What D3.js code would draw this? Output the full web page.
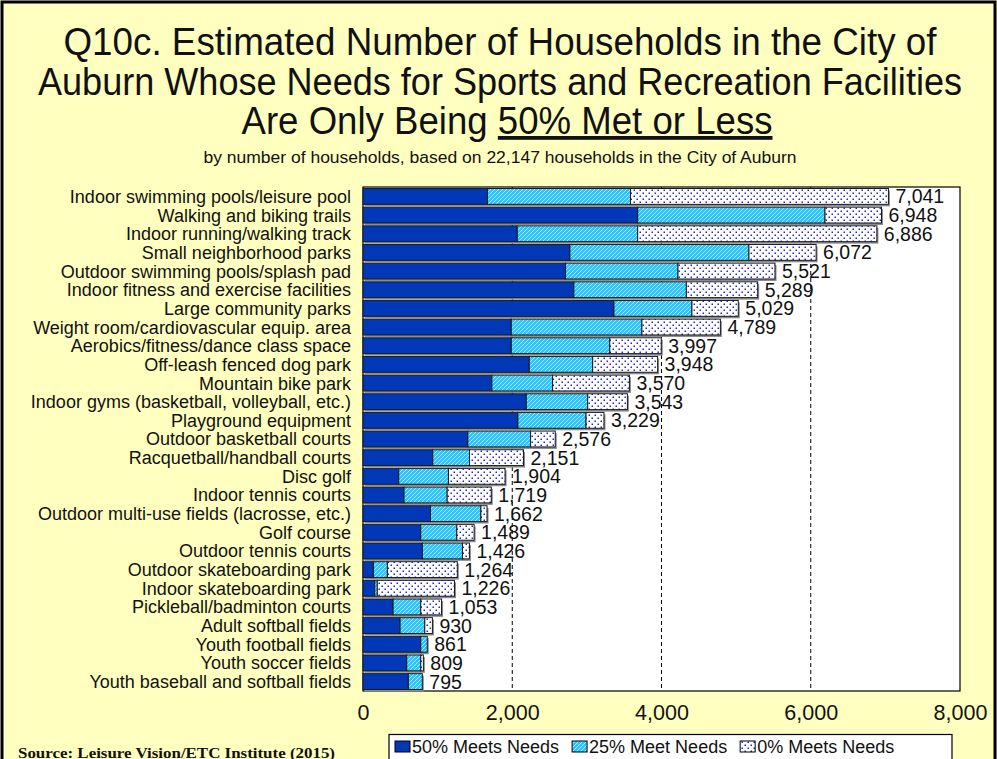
<!DOCTYPE html>
<html>
<head>
<meta charset="utf-8">
<script src="https://cdn.jsdelivr.net/npm/d3@7"></script>
<style>
  html, body { margin: 0; padding: 0; background: #FFFFBF; }
  svg { display: block; }
  text { font-family: Arial, "Liberation Sans", sans-serif; fill: #111; }
</style>
</head>
<body>
<svg id="chart" width="997" height="759"></svg>
<script>
const categories = [
  "Indoor swimming pools/leisure pool",
  "Walking and biking trails",
  "Indoor running/walking track",
  "Small neighborhood parks",
  "Outdoor swimming pools/splash pad",
  "Indoor fitness and exercise facilities",
  "Large community parks",
  "Weight room/cardiovascular equip. area",
  "Aerobics/fitness/dance class space",
  "Off-leash fenced dog park",
  "Mountain bike park",
  "Indoor gyms (basketball, volleyball, etc.)",
  "Playground equipment",
  "Outdoor basketball courts",
  "Racquetball/handball courts",
  "Disc golf",
  "Indoor tennis courts",
  "Outdoor multi-use fields (lacrosse, etc.)",
  "Golf course",
  "Outdoor tennis courts",
  "Outdoor skateboarding park",
  "Indoor skateboarding park",
  "Pickleball/badminton courts",
  "Adult softball fields",
  "Youth football fields",
  "Youth soccer fields",
  "Youth baseball and softball fields"
];
const meets50 = [1668,3681,2067,2773,2714,2826,3363,1987,1987,2228,1727,2188,2076,1405,935,479,550,904,774,796,139,157,403,497,774,586,608];
const meets25 = [1917,2510,1614,2399,1507,1507,1045,1751,1320,850,814,823,913,841,492,666,578,676,483,537,188,35,371,331,87,188,187];
const meets0  = [3456,757,3205,900,1300,956,621,1051,690,870,1029,532,240,330,724,759,591,82,232,93,937,1034,279,102,0,35,0];
const seriesNames = ["50% Meets Needs", "25% Meet Needs", "0% Meets Needs"];
const xTicks = [0, 2000, 4000, 6000, 8000];
const gridTicks = [2000, 4000, 6000];
const titleLines = ["Q10c. Estimated Number of Households in the City of",
                    "Auburn Whose Needs for Sports and Recreation Facilities"];
const titleLine3a = "Are Only Being ";
const titleLine3b = "50% Met or Less";
const subtitle = "by number of households, based on 22,147 households in the City of Auburn";
const sourceText = "Source:  Leisure Vision/ETC Institute (2015)";

const svg = d3.select("#chart");
const defs = svg.append("defs");

// patterns
const hatch = defs.append("pattern").attr("id", "hatch")
  .attr("patternUnits", "userSpaceOnUse").attr("width", 4).attr("height", 4);
hatch.append("rect").attr("width", 4).attr("height", 4).attr("fill", "#2EC4F4");
hatch.append("path").attr("d", "M-1,1 L1,-1 M0,4 L4,0 M3,5 L5,3")
  .attr("stroke", "#A8E8FF").attr("stroke-width", 1);

const dots = defs.append("pattern").attr("id", "dots")
  .attr("patternUnits", "userSpaceOnUse").attr("width", 6).attr("height", 6);
dots.append("rect").attr("width", 6).attr("height", 6).attr("fill", "#FFFFFF");
dots.append("rect").attr("x", 0.5).attr("y", 0.5).attr("width", 1.5).attr("height", 1.5).attr("fill", "#2424E8");
dots.append("rect").attr("x", 3.5).attr("y", 3.5).attr("width", 1.5).attr("height", 1.5).attr("fill", "#2424E8");

const fills = ["#0038B8", "url(#hatch)", "url(#dots)"];

// background + frame
svg.append("rect").attr("x", 0).attr("y", 0).attr("width", 997).attr("height", 759).attr("fill", "#FFFFBF");
svg.append("rect").attr("x", 2).attr("y", 2).attr("width", 993).attr("height", 800)
  .attr("fill", "none").attr("stroke", "#000").attr("stroke-width", 3);

// titles
const tl = [ {t: titleLines[0], y: 55, len: 873}, {t: titleLines[1], y: 95, len: 924} ];
tl.forEach(d => {
  svg.append("text").attr("x", 500).attr("y", d.y).attr("text-anchor", "middle")
    .attr("font-size", 38).attr("textLength", d.len).attr("lengthAdjust", "spacingAndGlyphs")
    .text(d.t);
});
const t3 = svg.append("text").attr("x", 507).attr("y", 134).attr("text-anchor", "middle")
  .attr("font-size", 38).attr("textLength", 531).attr("lengthAdjust", "spacingAndGlyphs");
t3.append("tspan").text(titleLine3a);
t3.append("tspan").attr("text-decoration", "underline").text(titleLine3b);

svg.append("text").attr("x", 500).attr("y", 163).attr("text-anchor", "middle")
  .attr("font-size", 16).attr("textLength", 593).attr("lengthAdjust", "spacingAndGlyphs")
  .text(subtitle);

// scales
const x = d3.scaleLinear().domain([0, 8000]).range([363, 960]);
const y = d3.scaleBand().domain(categories).range([187, 691]).paddingInner(0.15).paddingOuter(0.08);

// plot area
svg.append("rect").attr("x", x(0)).attr("y", 187).attr("width", x(8000) - x(0)).attr("height", 504)
  .attr("fill", "#FFFFFF").attr("stroke", "#000").attr("stroke-width", 1.2);

// gridlines
svg.append("g").selectAll("line").data(gridTicks).join("line")
  .attr("x1", d => x(d)).attr("x2", d => x(d)).attr("y1", 187).attr("y2", 691)
  .attr("stroke", "#000").attr("stroke-width", 1).attr("stroke-dasharray", "4,3");

// data rows
const rows = categories.map((c, i) => ({cat: c, s0: meets50[i], s1: meets25[i], s2: meets0[i]}));
const stack = d3.stack().keys(["s0", "s1", "s2"]);
const series = stack(rows);

// shadows
svg.append("g").selectAll("rect").data(rows).join("rect")
  .attr("x", x(0) + 1.5)
  .attr("y", d => y(d.cat) + 2)
  .attr("width", d => x(d.s0 + d.s1 + d.s2) - x(0))
  .attr("height", y.bandwidth())
  .attr("fill", "#8C8C8C");

svg.append("g").selectAll("g").data(series).join("g")
  .attr("fill", (d, i) => fills[i])
  .selectAll("rect").data(d => d.filter(p => p[1] - p[0] > 0)).join("rect")
  .attr("x", d => x(d[0]))
  .attr("y", d => y(d.data.cat))
  .attr("width", d => x(d[1]) - x(d[0]))
  .attr("height", y.bandwidth())
  .attr("stroke", "#1a1a1a").attr("stroke-width", 1);

// value labels
const fmt = d3.format(",");
svg.append("g").selectAll("text").data(rows).join("text")
  .attr("x", d => x(d.s0 + d.s1 + d.s2) + 7)
  .attr("y", d => y(d.cat) + y.bandwidth() / 2)
  .attr("dy", "0.36em")
  .attr("font-size", 19.5)
  .text(d => fmt(d.s0 + d.s1 + d.s2));

// category labels
svg.append("g").selectAll("text").data(categories).join("text")
  .attr("x", 351)
  .attr("y", d => y(d) + y.bandwidth() / 2)
  .attr("dy", "0.36em")
  .attr("text-anchor", "end")
  .attr("font-size", 18)
  .text(d => d);

// x axis
const xAxis = d3.axisBottom(x).tickValues(xTicks).tickFormat(fmt).tickSize(0).tickPadding(14);
const gx = svg.append("g").attr("transform", "translate(0,691)").call(xAxis);
gx.select(".domain").remove();
gx.selectAll("text").attr("font-size", 21.5).attr("fill", "#111")
  .style("font-family", "Arial, 'Liberation Sans', sans-serif");

// legend
const lg = svg.append("g");
lg.append("rect").attr("x", 389).attr("y", 734.5).attr("width", 563).attr("height", 32)
  .attr("fill", "#FFFFFF").attr("stroke", "#000").attr("stroke-width", 1.2);
let lx = 395;
seriesNames.forEach((name, i) => {
  lg.append("rect").attr("x", lx).attr("y", 741).attr("width", 15).attr("height", 11)
    .attr("fill", fills[i]).attr("stroke", "#000").attr("stroke-width", 1);
  const t = lg.append("text").attr("x", lx + 17).attr("y", 753).attr("font-size", 18).text(name);
  lx = lx + 17 + t.node().getComputedTextLength() + 13;
});

// source
svg.append("text").attr("x", 18).attr("y", 758)
  .style("font-family", "'Liberation Serif', 'Times New Roman', serif")
  .attr("font-weight", "bold").attr("font-size", 15)
  .attr("textLength", 317).attr("lengthAdjust", "spacingAndGlyphs")
  .text(sourceText);
</script>
</body>
</html>
